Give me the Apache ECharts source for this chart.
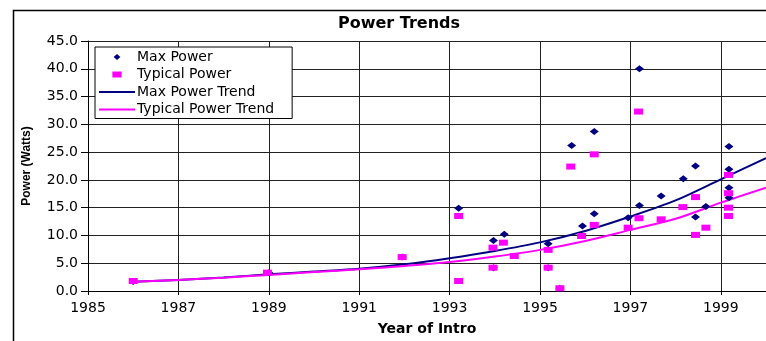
<!DOCTYPE html>
<html>
<head>
<meta charset="utf-8">
<script src="https://cdn.jsdelivr.net/npm/echarts@6/dist/echarts.min.js"></script>
<style>
html,body{margin:0;padding:0;background:#fff;}
#chart{width:766px;height:341px;}
</style>
</head>
<body>
<div id="chart"></div>
<script>
// ---- data ----
var trendYears = [1986, 1987, 1988, 1989, 1990, 1991, 1992, 1993, 1994, 1995, 1996, 1997, 1998, 1999, 2000];
var maxTrend = [1.65, 2.0, 2.45, 3.0, 3.5, 4.0, 4.8, 5.9, 7.2, 8.75, 10.8, 13.4, 16.3, 20.1, 23.9];
var typicalTrend = [1.65, 2.0, 2.4, 2.9, 3.4, 3.9, 4.5, 5.2, 6.2, 7.4, 9.0, 11.0, 13.0, 15.9, 18.6];

var maxYears = [1986.0, 1989.0, 1991.95, 1993.2, 1993.97, 1994.21, 1993.97, 1995.18, 1995.18, 1995.44, 1995.70, 1996.20, 1995.94, 1996.20, 1996.95, 1997.20, 1997.20, 1997.68, 1998.17, 1998.44, 1998.44, 1998.67, 1999.18, 1999.18, 1999.18, 1999.18];
var maxPower = [1.7, 3.3, 6.1, 14.9, 9.1, 10.2, 4.2, 8.5, 4.2, 0.5, 26.2, 28.7, 11.7, 13.9, 13.2, 15.4, 40.0, 17.1, 20.2, 22.5, 13.3, 15.2, 26.0, 21.9, 18.6, 16.8];

var typYears = [1986.0, 1988.97, 1991.95, 1993.2, 1993.2, 1993.96, 1994.19, 1993.96, 1994.43, 1995.18, 1995.18, 1995.44, 1995.68, 1996.20, 1995.92, 1996.20, 1996.95, 1997.19, 1997.18, 1997.68, 1998.16, 1998.44, 1998.44, 1998.67, 1999.17, 1999.17, 1999.17, 1999.17];
var typicalPower = [1.8, 3.3, 6.1, 13.5, 1.8, 7.8, 8.7, 4.2, 6.3, 7.4, 4.2, 0.5, 22.4, 24.6, 9.9, 11.9, 11.4, 13.1, 32.3, 12.9, 15.1, 16.9, 10.1, 11.4, 20.9, 17.6, 15.0, 13.5];

var yTicks = {min: 0, max: 45, step: 5};
var xStart = 1985, xEnd = 2000, xStep = 2;

// ---- build ----
function pairs(xs, ys) {
  return xs.map(function (x, i) { return [x - xStart, ys[i]]; });
}
var NAVY = '#000080', PINK = '#FF00FF';
var FONT = 'DejaVu Sans';

var chart = echarts.init(document.getElementById('chart'), null, {renderer: 'canvas'});
chart.setOption({
  animation: false,
  backgroundColor: '#fff',
  title: {
    text: 'Power Trends',
    left: 333, top: 11,
    textStyle: {fontFamily: FONT, fontWeight: 'bold', fontSize: 16, color: '#000'}
  },
  graphic: [{
    type: 'rect', left: 11, top: 8, silent: true,
    shape: {width: 800, height: 400},
    style: {fill: 'none', stroke: '#000', lineWidth: 1.5}
  }],
  legend: {
    left: 95, top: 47,
    orient: 'vertical',
    itemWidth: 36, itemHeight: 6, itemGap: 3.5,
    padding: [3, 18, 2, 4],
    backgroundColor: '#fff',
    borderColor: '#000', borderWidth: 1, borderRadius: 0,
    symbolKeepAspect: true,
    textStyle: {fontFamily: FONT, fontSize: 14, color: '#000', padding: [0, 0, 0, -3]},
    data: [
      {name: 'Max Power', icon: 'path://M4,0L8,3.5L4,7L0,3.5Z', itemStyle: {opacity: 1}},
      {name: 'Typical Power', icon: 'path://M0,0L8.5,0L8.5,5.5L0,5.5Z', itemStyle: {opacity: 1}},
      {name: 'Max Power Trend', icon: 'path://M0,0L36,0L36,2L0,2Z', itemStyle: {color: NAVY}},
      {name: 'Typical Power Trend', icon: 'path://M0,0L36,0L36,2L0,2Z', itemStyle: {color: PINK}}
    ]
  },
  grid: {left: 88, right: 0, top: 41, bottom: 48, containLabel: false},
  xAxis: {
    type: 'value', min: 0, max: xEnd - xStart, interval: xStep,
    name: 'Year of Intro', nameLocation: 'middle', nameGap: 31,
    nameTextStyle: {fontFamily: FONT, fontWeight: 'bold', fontSize: 14, color: '#000'},
    axisLine: {show: true, lineStyle: {color: '#000', width: 1}},
    axisTick: {show: true, length: 4, lineStyle: {color: '#000'}},
    axisLabel: {
      fontFamily: FONT, fontSize: 14, color: '#000', margin: 10, showMaxLabel: false,
      formatter: function (v) { return String(v + xStart); }
    },
    splitLine: {show: true, lineStyle: {color: '#222', width: 1}}
  },
  yAxis: {
    type: 'value', min: yTicks.min, max: yTicks.max, interval: yTicks.step,
    name: 'Power (Watts)', nameLocation: 'middle', nameGap: 55,
    nameTextStyle: {fontFamily: 'Liberation Sans', fontWeight: 'bold', fontSize: 12, color: '#000'},
    axisLine: {show: true, lineStyle: {color: '#000', width: 1}},
    axisTick: {show: true, length: 7, lineStyle: {color: '#000'}},
    axisLabel: {
      fontFamily: FONT, fontSize: 14, color: '#000', margin: 10,
      formatter: function (v) { return v.toFixed(1); }
    },
    splitLine: {show: true, lineStyle: {color: '#222', width: 1}}
  },
  series: [
    {
      name: 'Max Power Trend', type: 'line', z: 2,
      data: pairs(trendYears, maxTrend),
      symbol: 'none', smooth: 0.3,
      lineStyle: {color: NAVY, width: 2}, itemStyle: {color: NAVY}
    },
    {
      name: 'Typical Power Trend', type: 'line', z: 2,
      data: pairs(trendYears, typicalTrend),
      symbol: 'none', smooth: 0.3,
      lineStyle: {color: PINK, width: 2}, itemStyle: {color: PINK}
    },
    {
      name: 'Max Power', type: 'scatter', z: 3,
      data: pairs(maxYears, maxPower),
      symbol: 'diamond', symbolSize: [9, 7],
      itemStyle: {color: NAVY, opacity: 1}
    },
    {
      name: 'Typical Power', type: 'scatter', z: 4,
      data: pairs(typYears, typicalPower),
      symbol: 'rect', symbolSize: [9, 6],
      itemStyle: {color: PINK, opacity: 1}
    }
  ]
});
</script>
</body>
</html>
